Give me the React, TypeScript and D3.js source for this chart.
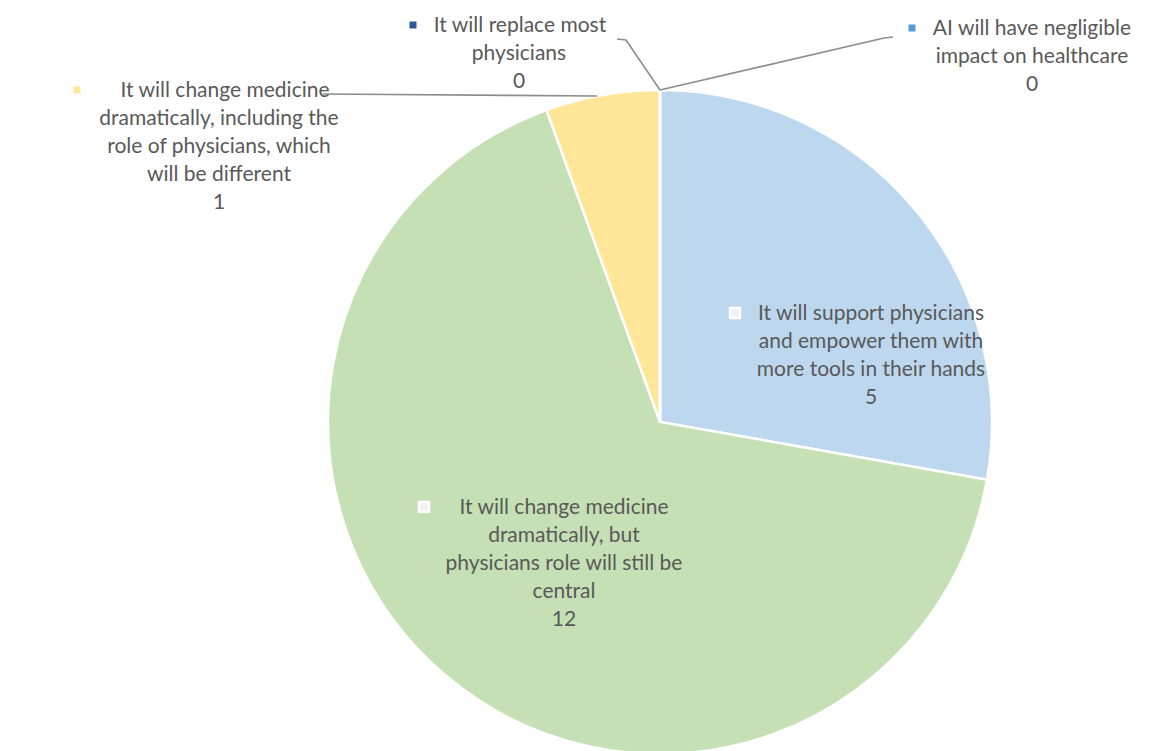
import React from "react";
import * as d3 from "d3";

const categories = [
  "It will support physicians and empower them with more tools in their hands",
  "It will change medicine dramatically, but physicians role will still be central",
  "It will change medicine dramatically, including the role of physicians, which will be different",
  "It will replace most physicians",
  "AI will have negligible impact on healthcare",
];
const values = [5, 12, 1, 0, 0];
const sliceColors = ["#BDD7EE", "#C5E0B4", "#FFE699", "#2F5597", "#5B9BD5"];
const labelLines = [
  ["It will support physicians", "and empower them with", "more tools in their hands"],
  ["It will change medicine", "dramatically, but", "physicians role will still be", "central"],
  ["It will change medicine", "dramatically, including the", "role of physicians, which", "will be different"],
  ["It will replace most", "physicians"],
  ["AI will have negligible", "impact on healthcare"],
];

// label layout (anchor center x, first line center y, marker x, first-line shift)
const labelLayout = [
  { cx: 871, y0: 313, mx: 735, inside: true, l1dx: 0 },
  { cx: 564, y0: 507, mx: 424, inside: true, l1dx: 0 },
  { cx: 219, y0: 90, mx: 77, inside: false, l1dx: 6 },
  { cx: 519, y0: 25, mx: 413, inside: false, l1dx: 1 },
  { cx: 1032, y0: 28, mx: 912, inside: false, l1dx: 0 },
];
const leaders = [
  null,
  null,
  { from: [323, 94], elbow: null },
  { from: [617, 39], elbow: [626, 40] },
  { from: [893, 37], elbow: [884, 38] },
];

export default function App() {
  const W = 1171, H = 751;
  const cx = 660, cy = 422, R = 332;
  const pie = d3.pie<number>().sort(null).startAngle(0).endAngle(2 * Math.PI)(values);
  const arc = d3.arc<d3.PieArcDatum<number>>().innerRadius(0).outerRadius(R);
  const lh = 27.8;
  const edge = (a: number) => [cx + R * Math.sin(a), cy - R * Math.cos(a)];
  return (
    <svg width={W} height={H} style={{ position: "absolute", left: 0, top: 0, background: "#fff" }}
      fontFamily="Lato, 'Open Sans', sans-serif">
      <g transform={`translate(${cx},${cy})`}>
        {pie.map((p, i) => (
          <path key={i} d={arc(p) || ""} fill={sliceColors[i]} stroke="#fff" strokeWidth={2.5} />
        ))}
      </g>
      {leaders.map((l, i) => {
        if (!l) return null;
        const p = pie[i];
        let end: number[];
        if (i === 2) {
          const y = 96;
          const dx = Math.sqrt(R * R - (cy - y) * (cy - y));
          end = [cx - dx, y];
        } else {
          end = edge((p.startAngle + p.endAngle) / 2);
        }
        const pts = [l.from, ...(l.elbow ? [l.elbow] : []), end];
        return (
          <polyline key={i} points={pts.map((q) => q.join(",")).join(" ")} fill="none"
            stroke="#8c8c8c" strokeWidth={1.6} />
        );
      })}
      {labelLayout.map((L, i) => {
        const lines = [...labelLines[i], String(values[i])];
        return (
          <g key={i} fill="#595959" fontSize={21}>
            {L.inside ? (
              <rect x={L.mx - 5} y={L.y0 - 5} width={10} height={10} fill="#f2f2f2" stroke="#fff" strokeWidth={2.5} />
            ) : (
              <rect x={L.mx - 3.5} y={L.y0 - 3.5} width={7} height={7} fill={sliceColors[i]} />
            )}
            {lines.map((t, j) => (
              <text key={j} x={L.cx + (j === 0 ? L.l1dx : 0)}
                y={L.y0 + j * lh} dy="0.35em" textAnchor="middle">{t}</text>
            ))}
          </g>
        );
      })}
    </svg>
  );
}
